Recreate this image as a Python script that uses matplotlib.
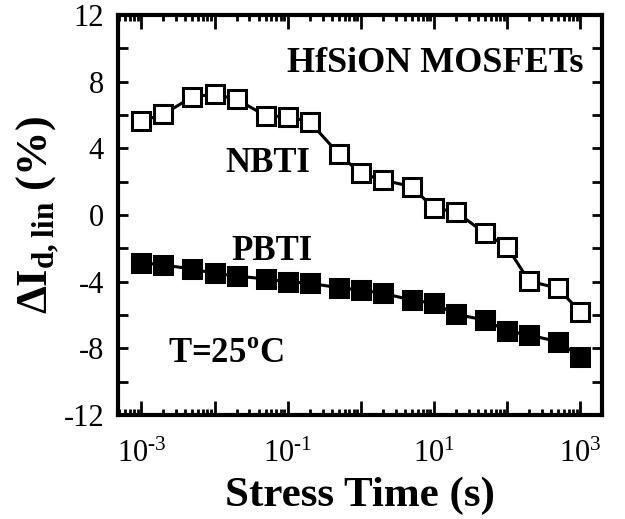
import math
import matplotlib
matplotlib.use("Agg")
import matplotlib.pyplot as plt
from matplotlib.ticker import FixedLocator, LogLocator, NullFormatter, FuncFormatter

# stress time (s)
stress_time = [1e-3, 2e-3, 5e-3, 1e-2, 2e-2, 5e-2, 1e-1, 2e-1, 5e-1,
               1, 2, 5, 10, 20, 50, 100, 200, 500, 1000]

# delta Id,lin (%)
nbti = [5.64, 6.04, 7.10, 7.24, 6.94, 5.96, 5.90, 5.60, 3.66,
        2.50, 2.10, 1.70, 0.40, 0.20, -1.10, -1.90, -3.96, -4.40, -5.80]
pbti = [-2.86, -3.00, -3.24, -3.50, -3.66, -3.84, -4.00, -4.10, -4.36,
        -4.50, -4.70, -5.10, -5.30, -5.96, -6.30, -6.96, -7.20, -7.60, -8.50]

y_ticks = [-12, -8, -4, 0, 4, 8, 12]
x_labelled = [1e-3, 1e-1, 1e1, 1e3]

plt.rcParams['font.family'] = 'Liberation Serif'
plt.rcParams['mathtext.fontset'] = 'custom'
plt.rcParams['mathtext.rm'] = 'Liberation Serif'
plt.rcParams['mathtext.bf'] = 'Liberation Serif:bold'
plt.rcParams['axes.unicode_minus'] = False

fig = plt.figure(figsize=(6.25, 5.19), dpi=100)
ax = fig.add_axes([118 / 625, 1 - 415 / 519, 484 / 625, 400 / 519])

ax.plot(stress_time, nbti, '-s', color='black', lw=2.2, ms=12.5,
        mfc='white', mec='black', mew=2.2)
ax.plot(stress_time, pbti, '-s', color='black', lw=2.2, ms=12.5,
        mfc='black', mec='black', mew=2.2)

ax.set_xscale('log')
ax.set_xlim(10 ** -3.32, 10 ** 3.3)
ax.set_ylim(-12, 12)

ax.xaxis.set_major_locator(LogLocator(base=10, numticks=20))
ax.xaxis.set_minor_locator(LogLocator(base=10, subs=range(2, 10), numticks=20))
ax.xaxis.set_minor_formatter(NullFormatter())


def fmt_x(v, pos):
    # only odd decades get a label, hyphen instead of minus like the original
    for t in x_labelled:
        if abs(v / t - 1) < 1e-6:
            e = int(round(math.log10(v)))
            ex = (r'\text{-}%d' % -e) if e < 0 else '%d' % e
            return r'$\mathregular{10^{%s}}$' % ex
    return ''


ax.xaxis.set_major_formatter(FuncFormatter(fmt_x))
ax.yaxis.set_major_locator(FixedLocator(y_ticks))
ax.yaxis.set_minor_locator(FixedLocator(list(range(-10, 12, 4))))

ax.tick_params(axis='both', which='both', direction='in', top=True, right=True,
               labelsize=22, width=2)
ax.tick_params(axis='x', which='major', length=10, pad=18)
ax.tick_params(axis='x', which='minor', length=4)
ax.tick_params(axis='y', which='both', length=7, pad=10)
for s in ax.spines.values():
    s.set_linewidth(3)

ax.set_xlabel('Stress Time (s)', fontsize=31, fontweight='bold', labelpad=5)
ax.set_ylabel(r'ΔI$_{\mathbf{d,lin}}$ (%)', fontsize=32, fontweight='bold',
              labelpad=2)

ax.text(0.961, 0.857, 'HfSiON MOSFETs', transform=ax.transAxes, ha='right',
        va='baseline', fontsize=26, fontweight='bold')
ax.text(0.221, 0.607, 'NBTI', transform=ax.transAxes, ha='left',
        va='baseline', fontsize=25, fontweight='bold')
ax.text(0.235, 0.3875, 'PBTI', transform=ax.transAxes, ha='left',
        va='baseline', fontsize=25, fontweight='bold')
ax.text(0.103, 0.13, r'T=25$^{\mathbf{o}}$C', transform=ax.transAxes,
        ha='left', va='baseline', fontsize=25, fontweight='bold')

fig.savefig('out.png', dpi=100)
